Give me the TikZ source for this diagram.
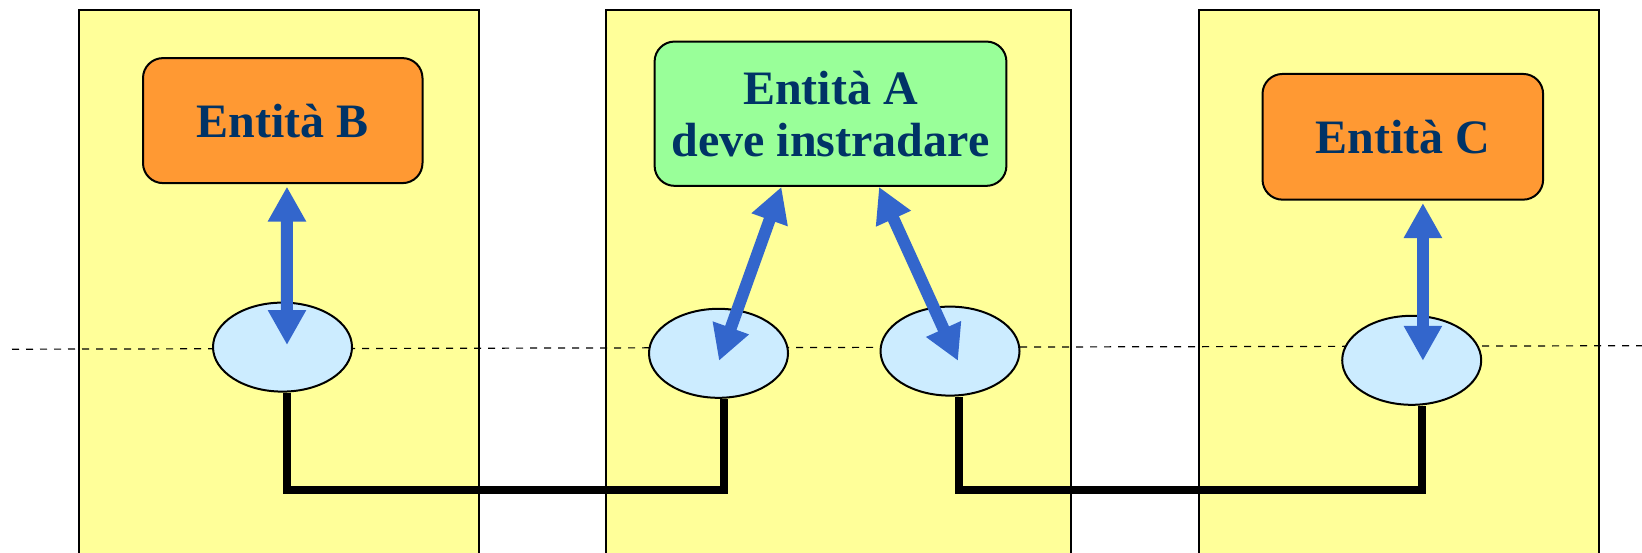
\documentclass[tikz,border=0pt]{standalone}
\usepackage{fontspec}
\setmainfont{Liberation Serif}
\usetikzlibrary{arrows.meta,shapes.geometric}
\definecolor{layeryellow}{HTML}{FFFF99}
\definecolor{entorange}{HTML}{FF9933}
\definecolor{entgreen}{HTML}{99FF99}
\definecolor{sapblue}{HTML}{CCECFF}
\definecolor{arrowblue}{HTML}{3366CC}
\definecolor{textnavy}{HTML}{003366}
\tikzset{
  layer/.style={
    draw,
    line width=1pt,
    fill=layeryellow
  },
  entity/.style={
    draw,
    line width=1pt,
    rounded corners=10pt,
    align=center,
    text=textnavy,
    font=\bfseries\fontsize{24}{25.9}\selectfont
  },
  sap/.style={
    shape=ellipse,
    draw,
    line width=1pt,
    fill=sapblue,
    inner sep=0pt,
    minimum width=69.5pt,
    minimum height=44.5pt
  },
}
\tikzset{
  duplex/.style={
    draw=arrowblue,
    line width=6pt,
    {Triangle[width=18pt,length=17.5pt]}-{Triangle[width=18pt,length=17.5pt]}
  },
  wire/.style={
    line width=4pt
  },
  horizon/.style={
    line width=0.6pt,
    dash pattern=on 3.5pt off 3.5pt
  }
}

\begin{document}
\begin{tikzpicture}[x=0.5pt,y=-0.5pt]
  \useasboundingbox (0,0) rectangle (1642,552);
  \foreach \l/\r in {78.6/478.6,606.4/1071.4,1198.5/1599.1}{
    \draw[layer] (\l,9.9) rectangle (\r,560);
  }
  \draw[horizon] (12,349.2) -- (1642,345.7);

  \node[sap] (sapB)  at (282.5,347.1) {};
  \node[sap] (sapA1) at (718.5,353.3) {};
  \node[sap] (sapA2) at (950,351.1) {};
  \node[sap] (sapC)  at (1411.7,360.3) {};

  \node[entity,fill=entorange,minimum width=139.75pt,minimum height=62.5pt] (entB) at (282.75,120.6) {Entità B};
  \node[entity,fill=entgreen,minimum width=175.9pt,minimum height=72.15pt] (entA) at (830.5,113.7) {Entità A\\deve instradare};
  \node[entity,fill=entorange,minimum width=140.3pt,minimum height=62.85pt] (entC) at (1402.8,136.8) {Entità C};

  \draw[wire] ([xshift=2.25pt]sapB.south) -- ++(0,97.4) -| ([xshift=2.55pt]sapA1.south);
  \draw[wire] ([xshift=4.5pt]sapA2.south) -- ++(0,93.4) -| ([xshift=5.25pt]sapC.south);

  \draw[duplex] ([xshift=2.25pt,yshift=1.05pt]sapB.center) -- ([xshift=2.1pt,yshift=-1.25pt]entB.south);
  \draw[duplex] ([xshift=0.25pt,yshift=-3.75pt]sapA1.center) -- ([xshift=-24.55pt]entA.south);
  \draw[duplex] ([xshift=4pt,yshift=-4.85pt]sapA2.center) -- ([xshift=24.25pt]entA.south);
  \draw[duplex] ([xshift=5.6pt,yshift=-0.25pt]sapC.center) -- ([xshift=10.05pt,yshift=-1.2pt]entC.south);
\end{tikzpicture}
\end{document}
